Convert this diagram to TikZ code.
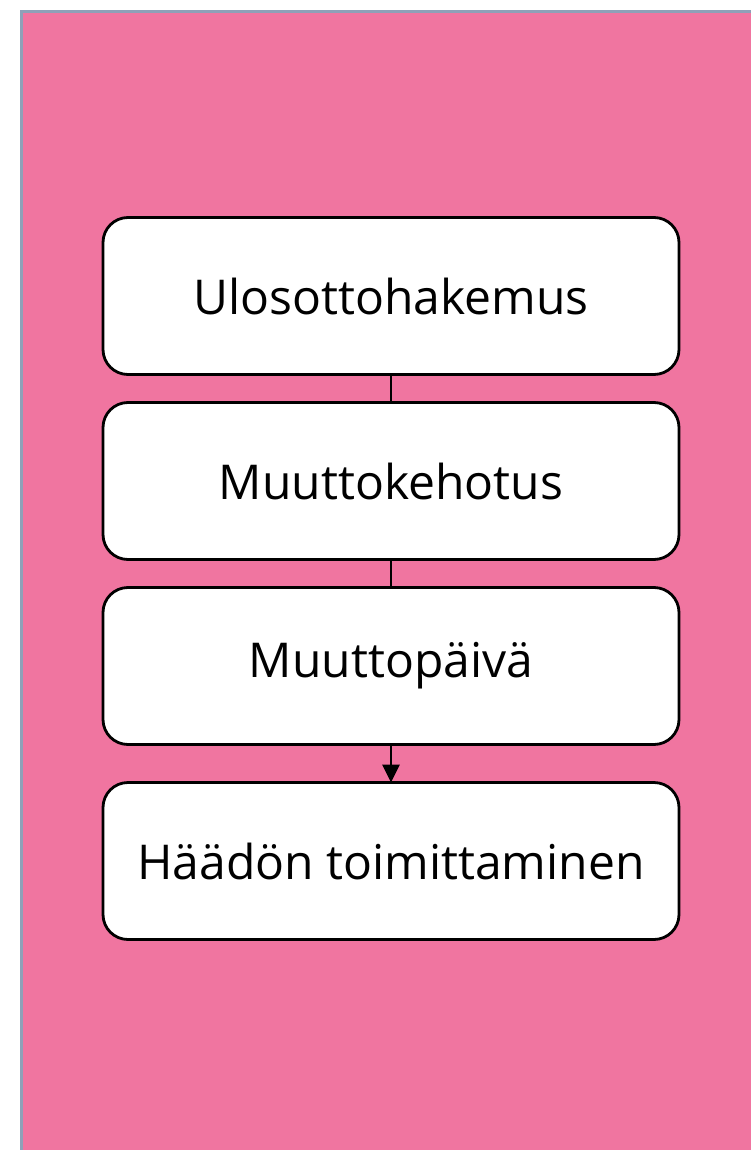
\documentclass[tikz,border=0pt]{standalone}
\usepackage{fontspec}
\setmainfont{Open Sans}
\usetikzlibrary{positioning,arrows.meta}

\definecolor{bgpink}{HTML}{F075A0}
\definecolor{bgedge}{HTML}{8FA0B8}

\begin{document}
\begin{tikzpicture}[
    x=1pt, y=-1pt,
    line width=2.8pt, % line style
    > = {Triangle[width=17pt,length=18pt]}, % arrow head style
    stepbox/.style={draw=black, fill=white, rounded corners=25pt,
        minimum width=576pt, minimum height=157pt, inner sep=0pt,
        outer sep=0pt, font=\fontsize{48}{58}\selectfont},
    node distance=28pt,
]
\useasboundingbox (0,0) rectangle (751,1150);
\draw[bgedge, fill=bgpink, line width=3pt] (21.5,11.5) rectangle (760,1160);

\node[stepbox] (hakemus) at (391,296) {Ulosottohakemus};
\node[stepbox, below=of hakemus] (kehotus) {Muuttokehotus};
\node[stepbox, below=of kehotus] (paiva) {Muuttopäivä};
\node[stepbox, below=38pt of paiva] (haato) {Häädön toimittaminen};

\draw (hakemus) -- (kehotus);
\draw (kehotus) -- (paiva);
\draw[->] (paiva) -- (haato);
\end{tikzpicture}
\end{document}
